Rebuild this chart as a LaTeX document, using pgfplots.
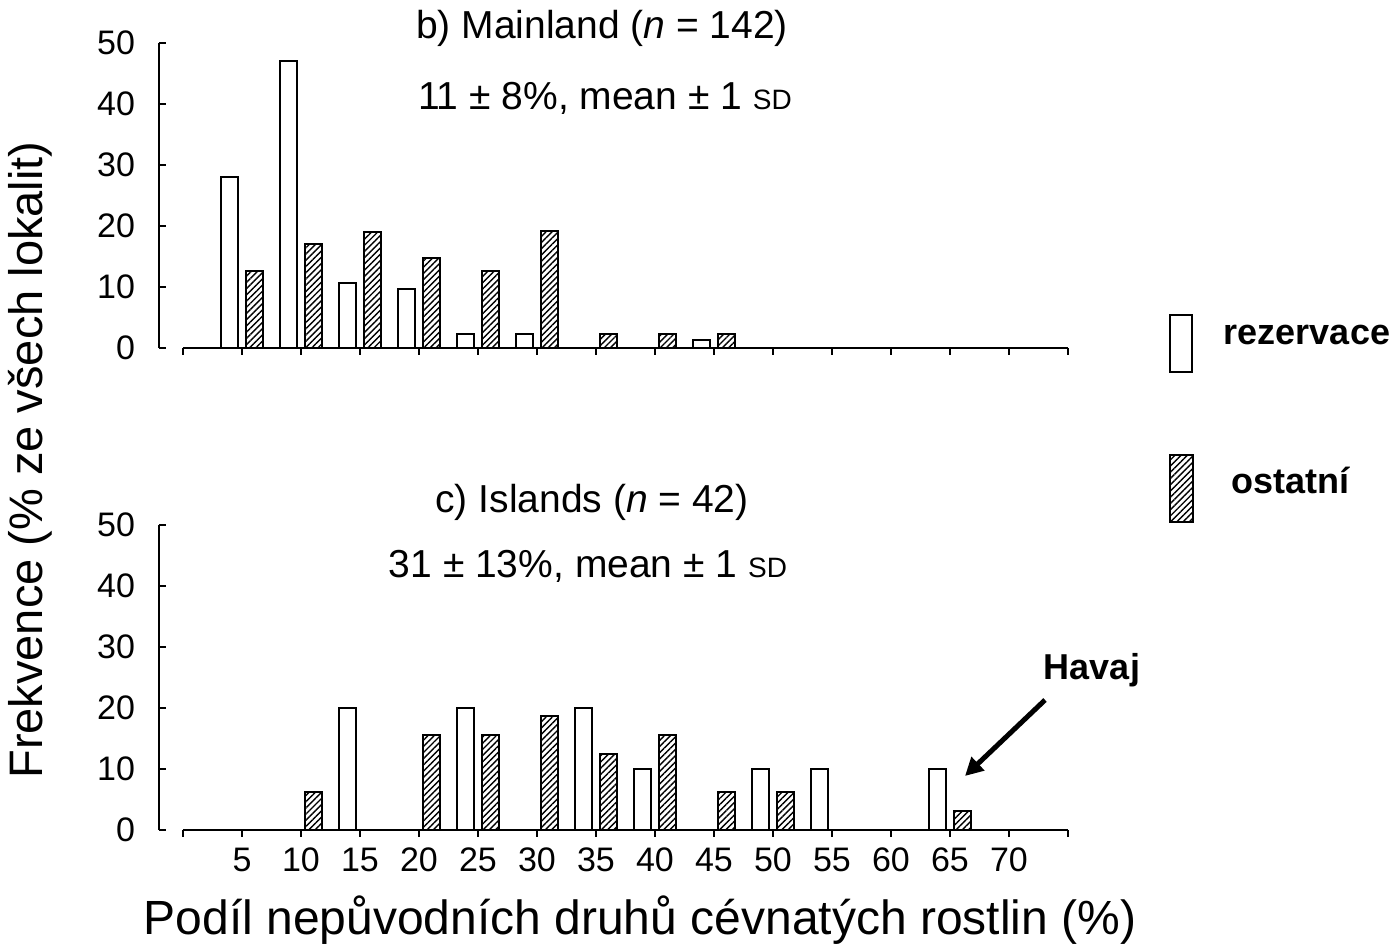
\documentclass[border=0pt]{standalone}
\usepackage{fontspec}
\setmainfont{Liberation Sans}
\usepackage{pgfplots}
\usepackage{pgfplotstable}
\pgfplotsset{compat=1.18}
\usetikzlibrary{patterns.meta,arrows.meta}

\pgfplotstableread{
x y
5 28
10 47
15 10.7
20 9.7
25 2.3
30 2.3
45 1.3
}\mainW
\pgfplotstableread{
x y
5 12.7
10 17
15 19
20 14.8
25 12.6
30 19.2
35 2.3
40 2.3
45 2.3
}\mainH
\pgfplotstableread{
x y
15 20
25 20
35 20
40 10
50 10
55 10
65 10
}\islW
\pgfplotstableread{
x y
10 6.25
20 15.6
25 15.6
30 18.75
35 12.5
40 15.6
45 6.25
50 6.25
65 3.1
}\islH

\begin{document}
\begin{tikzpicture}
\path[use as bounding box] (0,0) rectangle (699.5pt,476pt);
\pgfplotsset{
  hist/.style={scale only axis, width=442.5pt, height=152.5pt,
    xmin=0, xmax=75, ymin=0, ymax=50,
    axis x line=bottom, axis y line=left,
    axis y line shift=12pt,
    axis line style={-, line width=1.2pt},
    tick align=outside, major tick length=3.5pt,
    every tick/.style={black, line width=1.2pt},
    every y tick/.append style={xshift=3.5pt},
    ytick={0,10,...,50},
    xtick={5,10,...,70},
    extra x ticks={0,75}, extra x tick labels={},
    tick label style={font=\fontsize{17}{17}\selectfont},
    yticklabel style={xshift=-5pt},
    xticklabel style={yshift=-2pt},
    /pgf/number format/assume math mode=true,
    clip=false, anchor=south west},
  wb/.style={ybar, bar width=1.45, bar shift=-1.05, draw=black, fill=white, line width=1pt},
  hb/.style={ybar, bar width=1.45, bar shift=1.05, draw=black, line width=1pt,
    pattern={Lines[angle=45,distance=2.2pt,line width=0.7pt]}},
}
\begin{axis}[hist, at={(91.5pt,302pt)}, xticklabels={}]
\addplot[wb] table[x=x,y=y] {\mainW};
\addplot[hb] table[x=x,y=y] {\mainH};
\end{axis}
\begin{axis}[hist, at={(91.5pt,61pt)}]
\addplot[wb] table[x=x,y=y] {\islW};
\addplot[hb] table[x=x,y=y] {\islH};
\end{axis}

\node[font=\fontsize{19.5}{19.5}\selectfont] at (301pt,462pt) {b) Mainland (\textit{n} = 142)};
\node[font=\fontsize{19.5}{19.5}\selectfont] at (302.5pt,427pt) {11 ± 8\%, mean ± 1 {\fontsize{14}{14}\selectfont SD}};
\node[font=\fontsize{19.5}{19.5}\selectfont] at (296pt,225pt) {c) Islands (\textit{n} = 42)};
\node[font=\fontsize{19.5}{19.5}\selectfont] at (294pt,193pt) {31 ± 13\%, mean ± 1 {\fontsize{14}{14}\selectfont SD}};

\node[rotate=90, font=\fontsize{23.5}{23.5}\selectfont] at (15pt,246pt) {Frekvence (\% ze všech lokalit)};
\node[font=\fontsize{24}{24}\selectfont] at (320pt,16pt) {Podíl nepůvodních druhů cévnatých rostlin (\%)};

\draw[line width=0.8pt, fill=white] (585pt,318.5pt) rectangle (596pt,290pt);
\node[font=\fontsize{18}{18}\selectfont\bfseries] at (653.5pt,308.5pt) {rezervace};
\draw[line width=0.8pt, pattern={Lines[angle=45,distance=2.2pt,line width=0.7pt]}] (585pt,248.5pt) rectangle (596.5pt,215pt);
\node[font=\fontsize{18}{18}\selectfont\bfseries] at (645pt,236pt) {ostatní};

\node[font=\fontsize{18}{18}\selectfont\bfseries] at (546pt,141pt) {Havaj};
\draw[line width=2.5pt, -{Triangle[length=9pt,width=9pt]}] (522.5pt,126pt) -- (482.5pt,88pt);
\end{tikzpicture}
\end{document}
